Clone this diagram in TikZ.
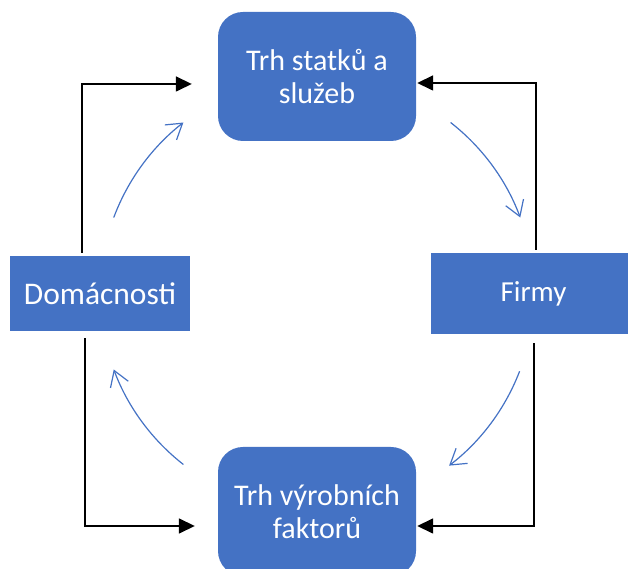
\documentclass[tikz,border=0pt]{standalone}
\usepackage{fontspec}
\setmainfont{Carlito}
\usetikzlibrary{arrows.meta,calc}

\definecolor{boxblue}{HTML}{4472C4}

\tikzset{
  market/.style={fill=boxblue, rounded corners=25pt, minimum width=198pt, minimum height=129pt,
    inner sep=0pt, text=white, align=center, font=\fontsize{30}{33}\selectfont},
  agent/.style={fill=boxblue, inner sep=0pt, text=white},
  flow/.style={draw=black, line width=1.6pt, -{Triangle[length=16pt,width=15pt]}},
  loopflow/.style={draw=boxblue, line width=1.2pt, -{Straight Barb[length=15pt,width=19pt,line width=1.2pt]}}
}

\begin{document}
\begin{tikzpicture}[x=1pt,y=1pt]
\useasboundingbox (0,0) rectangle (628,569);

% the two markets and the two sectors
\node[market] (zbozi) at (317,492.5) {Trh statků a\\služeb};
\node[market] (faktory) at (317,57.5) {Trh výrobních\\faktorů};
\node[agent, minimum width=180pt, minimum height=75pt, font=\fontsize{31.5}{33}\selectfont] (dom) at (100,275.5) {Domácnosti};
\node[agent, minimum width=205pt, minimum height=81pt, font=\fontsize{29}{33}\selectfont] (firmy) at (533.5,275.5) {Firmy};

% real flows
\draw[flow] ([xshift=-18pt,yshift=3pt]dom.north) |- ([xshift=-26pt,yshift=-7.5pt]zbozi.west);
\draw[flow] ([xshift=2.5pt,yshift=3pt]firmy.north) |- ([xshift=1pt,yshift=-6.5pt]zbozi.east);
\draw[flow] ([xshift=0.5pt,yshift=-9pt]firmy.south) |- ([xshift=1pt,yshift=-14.5pt]faktory.east);
\draw[flow] ([xshift=-15pt,yshift=-7pt]dom.south) |- ([xshift=-23pt,yshift=-14.5pt]faktory.west);

% money flows round the circle
\coordinate (stred) at (zbozi.center |- dom.center);
\foreach \a in {159.5,52,-21,-128}
  \draw[loopflow] ($(stred)+(\a:217pt)$) arc[start angle=\a, delta angle=-31.5, radius=217pt];
\end{tikzpicture}
\end{document}
